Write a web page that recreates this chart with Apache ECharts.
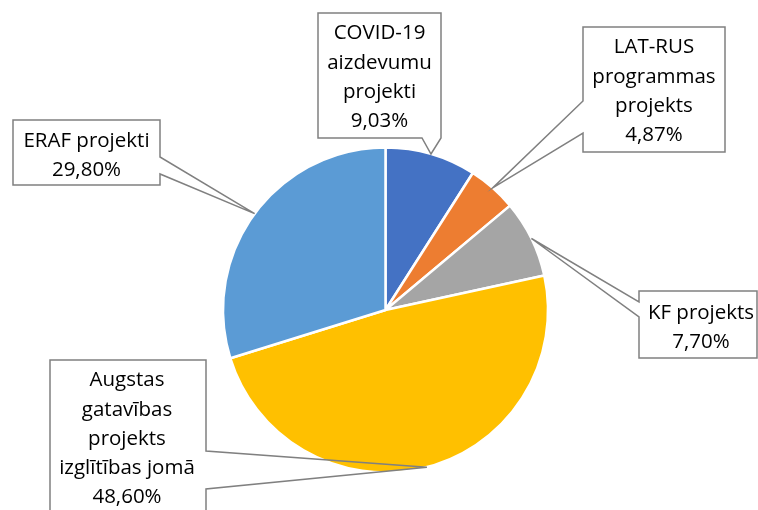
<!DOCTYPE html>
<html>
<head>
<meta charset="utf-8">
<script src="https://cdn.jsdelivr.net/npm/echarts@6/dist/echarts.min.js"></script>
<style>
html,body{margin:0;padding:0;background:#fff;}
#chart{width:758px;height:510px;}
</style>
</head>
<body>
<div id="chart"></div>
<script>
const categories = [
  'COVID-19\naizdevumu\nprojekti',
  'LAT-RUS\nprogrammas\nprojekts',
  'KF projekts',
  'Augstas\ngatavības\nprojekts\nizglītības jomā',
  'ERAF projekti'
];
const shares = [9.03, 4.87, 7.70, 48.60, 29.80];
const colors = ['#4472C4', '#ED7D31', '#A5A5A5', '#FFC000', '#5B9BD5'];

// callout layout: box edges, text centre, wedge side and wedge base span
const callouts = [
  {l: 318, t: 13, r: 441, b: 138, tx: 379.5, ty: 77.5, side: 'bottom', s0: 422, s1: 441},
  {l: 583, t: 27, r: 725, b: 152, tx: 654, ty: 91.5, side: 'left', s0: 101, s1: 133},
  {l: 639, t: 291, r: 757, b: 358, tx: 701, ty: 327.5, side: 'left', s0: 302, s1: 317},
  {l: 50, t: 360, r: 206, b: 530, tx: 127, ty: 439, side: 'right', s0: 451, s1: 489},
  {l: 13, t: 120, r: 160, b: 185, tx: 86.5, ty: 156, side: 'right', s0: 157, s1: 174}
];

const FONT = '"Open Sans", "Noto Sans", sans-serif';
const LH = 29.3;
const CENTER = [385.5, 310];
const RADIUS = 162.5;

function calloutOutline(c, tip) {
  const midTop = [(c.l + c.r) / 2, c.t];
  const pts = [midTop, [c.r, c.t]];
  if (c.side === 'right' && tip) pts.push([c.r, c.s0], tip, [c.r, c.s1]);
  pts.push([c.r, c.b]);
  if (c.side === 'bottom' && tip) pts.push([c.s1, c.b], tip, [c.s0, c.b]);
  pts.push([c.l, c.b]);
  if (c.side === 'left' && tip) pts.push([c.l, c.s1], tip, [c.l, c.s0]);
  pts.push([c.l, c.t], midTop);
  return pts;
}

const pieData = categories.map((name, i) => ({
  name: name,
  value: shares[i],
  itemStyle: {color: colors[i]}
}));

const chart = echarts.init(document.getElementById('chart'), null, {renderer: 'canvas'});

chart.setOption({
  animation: false,
  backgroundColor: '#ffffff',
  series: [{
    type: 'pie',
    z: 2,
    center: CENTER,
    radius: RADIUS,
    startAngle: 90,
    clockwise: true,
    silent: true,
    itemStyle: {borderColor: '#ffffff', borderWidth: 2.5},
    label: {show: false},
    labelLine: {show: false},
    emphasis: {disabled: true},
    data: pieData
  }, {
    // overlay series carrying the callout labels above the slices
    type: 'pie',
    z: 5,
    center: CENTER,
    radius: RADIUS,
    startAngle: 90,
    clockwise: true,
    silent: true,
    avoidLabelOverlap: false,
    itemStyle: {color: 'rgba(0,0,0,0)', borderWidth: 0},
    label: {
      show: true,
      position: 'outer',
      formatter: p => p.name + '\n' + p.value.toFixed(2).replace('.', ',') + '%',
      fontFamily: FONT,
      fontSize: 20.5,
      lineHeight: LH,
      color: '#000000',
      align: 'center',
      overflow: 'none'
    },
    labelLine: {
      show: true,
      length: 10,
      length2: 0,
      lineStyle: {color: '#808080', width: 1.5, join: 'miter'}
    },
    labelLayout: function (p) {
      const c = callouts[p.dataIndex];
      const res = {x: c.tx, y: c.ty, align: 'center', verticalAlign: 'middle'};
      const tip = p.labelLinePoints && p.labelLinePoints[0] ? [p.labelLinePoints[0][0], p.labelLinePoints[0][1]] : null;
      res.labelLinePoints = calloutOutline(c, tip);
      return res;
    },
    emphasis: {disabled: true},
    data: categories.map((name, i) => ({name: name, value: shares[i]}))
  }]
});
</script>
</body>
</html>
